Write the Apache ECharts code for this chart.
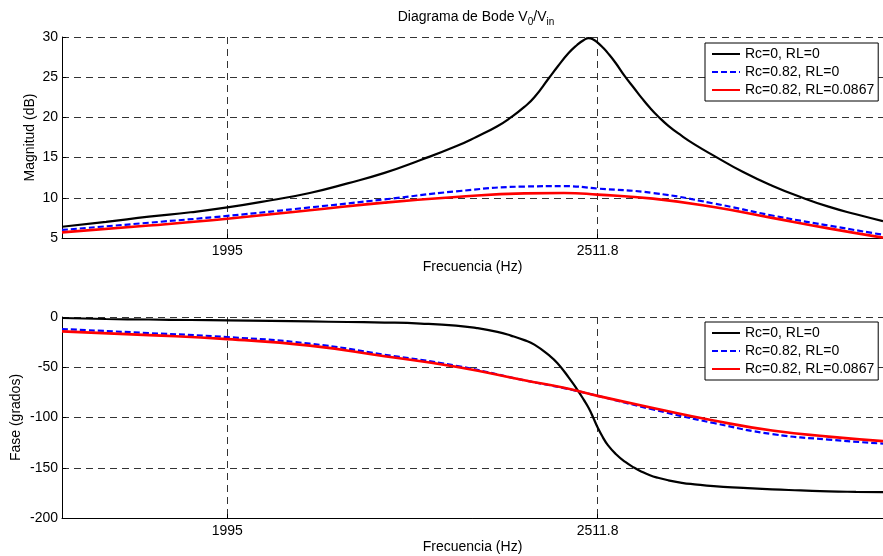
<!DOCTYPE html>
<html>
<head>
<meta charset="utf-8">
<script src="https://cdn.jsdelivr.net/npm/echarts@6/dist/echarts.min.js"></script>
<style>
  html, body { margin: 0; padding: 0; background: #fff; }
  #main { width: 883px; height: 556px; }
</style>
</head>
<body>
<div id="main"></div>
<script>
// frecuencias (Hz) para la curva negra (más densa cerca de la resonancia)
const freqBlack = [1800, 1850, 1900, 1950, 1995, 2050, 2100, 2150, 2200, 2250,
  2300, 2330, 2360, 2380, 2400, 2415, 2437, 2450, 2467, 2480,
  2490, 2498, 2505, 2512, 2520, 2528, 2540, 2555, 2570, 2582,
  2595, 2608, 2625, 2647, 2668, 2700, 2750, 2800, 2850, 2900,
  2950, 3000];
const magBlack = [6.4, 7.0, 7.65, 8.2, 8.8, 9.7, 10.6, 11.8, 13.1, 14.7,
  16.4, 17.6, 18.9, 20.0, 21.3, 22.5, 24.9, 26.3, 28.0, 29.0,
  29.6, 29.85, 29.7, 29.3, 28.7, 28.0, 26.8, 25.1, 23.6, 22.4,
  21.2, 20.15, 18.95, 17.7, 16.65, 15.25, 13.2, 11.5, 10.1, 8.9,
  7.95, 7.1];
const phaseBlack = [-1, -2, -2.5, -3, -3.3, -3.8, -4.4, -5, -5.5, -6.5,
  -8.5, -11, -14.8, -18.5, -23, -27.5, -38, -46, -60, -72,
  -82, -90.5, -100, -110, -119.5, -127.5, -136, -144, -150, -154,
  -157.5, -160, -162.5, -165, -166.5, -168.3, -170, -171.5, -172.5, -173.5,
  -174, -174.3];

// frecuencias para las curvas con Rc / RL
const freqSmooth = [1800, 1900, 1995, 2100, 2200, 2300, 2400, 2460, 2512, 2600, 2700, 2800, 2900, 3000];
const magBlue = [6.0, 6.9, 7.75, 8.8, 9.8, 10.8, 11.4, 11.45, 11.15, 10.6, 9.3, 7.8, 6.55, 5.4];
const magRed = [5.7, 6.55, 7.4, 8.45, 9.4, 10.1, 10.55, 10.6, 10.4, 9.9, 8.85, 7.5, 6.2, 5.05];
const phaseBlue = [-12, -16, -20, -26.5, -37.5, -48.5, -63, -70.8, -78.5, -92, -105.5, -116.5, -122, -126];
const phaseRed = [-14.3, -18, -22, -28.5, -39, -49.5, -63, -70.5, -78.5, -90.5, -103, -113, -119, -123.5];

const seriesNames = ['Rc=0, RL=0', 'Rc=0.82, RL=0', 'Rc=0.82, RL=0.0867'];
const tickFreqs = [1995, 2511.8];
const tickLabels = ['1995', '2511.8'];
const freqMin = 1800;
const freqMax = 3000;

const FONT = 'Liberation Sans, Arial, Helvetica, sans-serif';
const GRID_COLOR = '#333';

function pairs(freqs, vals) {
  return freqs.map((f, i) => [Math.log10(f), vals[i]]);
}

const logTicks = tickFreqs.map(f => Math.log10(f));

function tickLabel(v) {
  let best = 0;
  for (let i = 1; i < logTicks.length; i++) {
    if (Math.abs(logTicks[i] - v) < Math.abs(logTicks[best] - v)) best = i;
  }
  return tickLabels[best];
}

function xAxisCfg(gridIndex) {
  return {
    type: 'value',
    gridIndex: gridIndex,
    min: Math.log10(freqMin),
    max: Math.log10(freqMax),
    name: 'Frecuencia (Hz)',
    nameLocation: 'middle',
    nameGap: 22,
    nameMoveOverlap: false,
    nameTextStyle: { fontFamily: FONT, fontSize: 14, color: '#000' },
    axisLine: { show: true, onZero: false, lineStyle: { color: '#000', width: 1 } },
    axisTick: { show: true, inside: true, length: 4, customValues: logTicks, lineStyle: { color: '#000' } },
    axisLabel: {
      customValues: logTicks, formatter: tickLabel, margin: 6,
      fontFamily: FONT, fontSize: 14, color: '#000'
    },
    splitLine: { show: true, lineStyle: { color: GRID_COLOR, type: [7, 5], width: 1 } }
  };
}

function yAxisCfg(gridIndex, name, min, max, interval, gap) {
  return {
    type: 'value',
    gridIndex: gridIndex,
    min: min, max: max, interval: interval,
    name: name,
    nameLocation: 'middle',
    nameGap: gap,
    nameMoveOverlap: false,
    nameTextStyle: { fontFamily: FONT, fontSize: 14, color: '#000' },
    axisLine: { show: true, lineStyle: { color: '#000', width: 1 } },
    axisTick: { show: true, inside: true, length: 4, lineStyle: { color: '#000' } },
    axisLabel: { margin: 4, fontFamily: FONT, fontSize: 14, color: '#000' },
    splitLine: { show: true, lineStyle: { color: GRID_COLOR, type: [7, 5], width: 1 } }
  };
}

function lineSeries(name, idx, data, color, width, dashed, z) {
  return {
    name: name,
    type: 'line',
    xAxisIndex: idx,
    yAxisIndex: idx,
    data: data,
    symbol: 'none',
    smooth: 0.5,
    z: z,
    lineStyle: { color: color, width: width, type: dashed ? [6, 3] : 'solid' },
    itemStyle: { color: color }
  };
}

function legendCfg(top) {
  return {
    data: seriesNames,
    orient: 'vertical',
    left: 705,
    top: top,
    itemWidth: 28,
    itemHeight: 14,
    itemGap: 4,
    padding: [4, 4, 4, 6],
    borderColor: '#000',
    borderWidth: 1,
    backgroundColor: '#fff',
    selectedMode: false,
    itemStyle: { opacity: 0 },
    textStyle: { fontFamily: FONT, fontSize: 14, color: '#000' }
  };
}

const chart = echarts.init(document.getElementById('main'), null, { renderer: 'canvas' });

chart.setOption({
  animation: false,
  backgroundColor: '#fff',
  title: {
    text: '{a|Diagrama de Bode V}{s|0}{a|/V}{s|in}',
    left: 471,
    top: 2,
    textAlign: 'center',
    textStyle: {
      fontWeight: 'normal',
      rich: {
        a: { fontFamily: FONT, fontSize: 14, fontWeight: 'normal', color: '#000', lineHeight: 20, verticalAlign: 'middle' },
        s: { fontFamily: FONT, fontSize: 10, fontWeight: 'normal', color: '#000', lineHeight: 20, verticalAlign: 'bottom' }
      }
    }
  },
  legend: [legendCfg(43), legendCfg(322)],
  grid: [
    { left: 62, top: 37, width: 829, height: 201 },
    { left: 62, top: 317, width: 829, height: 201 }
  ],
  xAxis: [xAxisCfg(0), xAxisCfg(1)],
  yAxis: [
    yAxisCfg(0, 'Magnitud (dB)', 5, 30, 5, 25),
    yAxisCfg(1, 'Fase (grados)', -200, 0, 50, 39)
  ],
  series: [
    lineSeries(seriesNames[0], 0, pairs(freqBlack, magBlack), '#000', 2.2, false, 2),
    lineSeries(seriesNames[1], 0, pairs(freqSmooth, magBlue), '#0000ff', 2.2, true, 3),
    lineSeries(seriesNames[2], 0, pairs(freqSmooth, magRed), '#ff0000', 2.6, false, 4),
    lineSeries(seriesNames[0], 1, pairs(freqBlack, phaseBlack), '#000', 2.2, false, 2),
    lineSeries(seriesNames[1], 1, pairs(freqSmooth, phaseBlue), '#0000ff', 2.2, true, 3),
    lineSeries(seriesNames[2], 1, pairs(freqSmooth, phaseRed), '#ff0000', 2.6, false, 4)
  ]
});
</script>
</body>
</html>
